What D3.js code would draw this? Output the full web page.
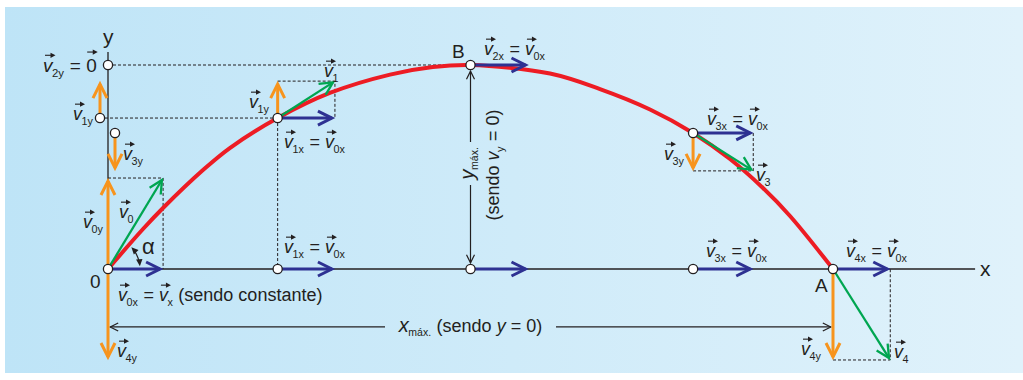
<!DOCTYPE html>
<html><head><meta charset="utf-8">
<script src="https://cdn.jsdelivr.net/npm/d3@7"></script>
<style>body{margin:0;background:#fff}svg{display:block}text{font-family:"Liberation Sans",Arial,Helvetica,sans-serif;fill:#231f20;white-space:pre}</style>
</head><body>
<svg id="c" width="1023" height="380"></svg>
<script>
// ---------- data (x: % of range, y: % of max height) ----------
const curveX = [0, 4.83, 7.59, 13.1, 16.8, 23.4, 30.6, 38.9, 44.8, 50, 60.97, 67.86, 74.76, 80.69, 85.79, 90.34, 94.07, 100];
const curveY = [0, 19.6, 29.9, 48.5, 59.3, 74.0, 86.3, 95.3, 99.0, 100, 95.8, 88.2, 78.2, 66.7, 53.9, 39.7, 26.0, 0];
const stationNames = ['0', '1', '2', '3', '4'];
const stationX = [0, 23.4, 50, 80.7, 100];
const stationY = [0, 74.0, 100, 66.7, 0];
const velX = [7.6, 7.9, 8.0, 8.3, 7.9];
const velY = [44.6, 18.1, 0, -18.6, -44.6];
const xAxisEnd = 119.6, yAxisEnd = 106.4;

// ---------- setup ----------
const svg = d3.select('#c');
const W = 1023, H = 380;
const x = d3.scaleLinear().domain([0, 100]).range([108, 833]);
const y = d3.scaleLinear().domain([0, 100]).range([269, 65]);
const INK = '#231f20', BLUE = '#2e3192', ORANGE = '#f7941d', GREEN = '#00a651', RED = '#ed1c24';

const defs = svg.append('defs');
const gr = defs.append('linearGradient').attr('id', 'bg').attr('x1', 0).attr('x2', 1).attr('y1', 0).attr('y2', 0);
gr.append('stop').attr('offset', 0).attr('stop-color', '#bee4f7');
gr.append('stop').attr('offset', 1).attr('stop-color', '#e0f2fb');
svg.append('rect').attr('x', 5).attr('y', 7).attr('width', W - 5).attr('height', 366).attr('fill', 'url(#bg)');

const gDash = svg.append('g').attr('stroke', INK).attr('stroke-width', 1).attr('stroke-dasharray', '3,2').attr('fill', 'none');
const gAxis = svg.append('g');
const gCurve = svg.append('g');
const gArr = svg.append('g');
const gPts = svg.append('g');
const gTxt = svg.append('g');

function arrow(g, x1, y1, x2, y2, color, w, hl, hw) {
  const dx = x2 - x1, dy = y2 - y1, L = Math.hypot(dx, dy), ux = dx / L, uy = dy / L;
  const tx = x2 - ux * w * 1.0, ty = y2 - uy * w * 1.0;
  const bx = tx - ux * hl, by = ty - uy * hl;
  g.append('line').attr('x1', x1).attr('y1', y1).attr('x2', tx).attr('y2', ty)
    .attr('stroke', color).attr('stroke-width', w);
  g.append('path').attr('d', `M${bx - uy * hw},${by + ux * hw}L${tx},${ty}L${bx + uy * hw},${by - ux * hw}`)
    .attr('fill', 'none').attr('stroke', color).attr('stroke-width', w).attr('stroke-linejoin', 'miter');
}
function vArrow(g, c, px, py, vx, vy, w, hl, hw) { arrow(g, px, py, px + vx, py + vy, c, w, hl, hw); }

// ---------- dashed construction lines ----------
gDash.append('line').attr('x1', x(0)).attr('x2', x(stationX[2])).attr('y1', y(stationY[2])).attr('y2', y(stationY[2]));
gDash.append('line').attr('x1', x(0) - 8).attr('x2', x(stationX[1])).attr('y1', y(stationY[1])).attr('y2', y(stationY[1]));
gDash.append('line').attr('x1', x(stationX[1])).attr('x2', x(stationX[1])).attr('y1', y(stationY[1])).attr('y2', y(0));
stationNames.forEach((n, i) => {
  if (velY[i] === 0) return;
  const px = x(stationX[i]), py = y(stationY[i]);
  const ex = x(stationX[i] + velX[i]), ey = y(stationY[i] + velY[i]);
  gDash.append('path').attr('d', `M${px},${ey}H${ex}V${py}`);
});

// ---------- axes ----------
gAxis.append('line').attr('x1', x(0)).attr('x2', x(xAxisEnd)).attr('y1', y(0)).attr('y2', y(0)).attr('stroke', INK).attr('stroke-width', 1.3);
gAxis.append('line').attr('x1', x(0)).attr('x2', x(0)).attr('y1', y(0)).attr('y2', y(yAxisEnd)).attr('stroke', INK).attr('stroke-width', 1.3);

// ---------- trajectory ----------
const line = d3.line().x((d, i) => x(curveX[i])).y((d, i) => y(curveY[i])).curve(d3.curveCatmullRom.alpha(0.5));
gCurve.append('path').attr('d', line(curveX)).attr('fill', 'none').attr('stroke', RED).attr('stroke-width', 4);

// ---------- y_max and x_max measure arrows ----------
const ym = gAxis.append('g');
arrow(ym, x(50), 142, x(50), y(100) + 5, INK, 1.2, 8, 4);
arrow(ym, x(50), 185, x(50), y(0) - 5, INK, 1.2, 8, 4);
const xmY = y(-28.4);
arrow(ym, 385, xmY, x(0) + 1, xmY, INK, 1.2, 8, 4);
arrow(ym, 556, xmY, x(100) - 1, xmY, INK, 1.2, 8, 4);

// alpha arc
(function () {
  const ox = x(0), oy = y(0), r = 32, a1 = -43 * Math.PI / 180, a2 = -5 * Math.PI / 180;
  const p = d3.path(); p.arc(ox, oy, r, a1 + 0.12, a2 - 0.12);
  ym.append('path').attr('d', p.toString()).attr('fill', 'none').attr('stroke', INK).attr('stroke-width', 1.2);
  [[a2, 1], [a1, -1]].forEach(([a, s]) => {
    const px = ox + r * Math.cos(a), py = oy + r * Math.sin(a);
    const tx = -Math.sin(a) * s, ty = Math.cos(a) * s;
    const bx = px - tx * 7, by = py - ty * 7;
    ym.append('path').attr('d', `M${px},${py}L${bx - ty * 3.2},${by + tx * 3.2}L${bx + ty * 3.2},${by - tx * 3.2}Z`).attr('fill', INK);
  });
})();

// ---------- velocity arrows ----------
const BW = 3, BH = 14, BHW = 7;
stationNames.forEach((n, i) => {
  const px = x(stationX[i]), py = y(stationY[i]);
  const dx = x(velX[i]) - x(0), dy = y(velY[i]) - y(0);
  vArrow(gArr, BLUE, px, py, dx, 0, BW, BH, BHW);
  if (velY[i] !== 0) {
    vArrow(gArr, ORANGE, px, py, 0, dy, BW, BH, BHW);
    vArrow(gArr, GREEN, px, py, dx, dy, 2.3, 13, 6.5);
  }
  if (i > 0 && i < 4) {
    vArrow(gArr, BLUE, px, y(0), dx, 0, BW, BH, BHW);
    gPts.append('circle').attr('cx', px).attr('cy', y(0));
  }
});
vArrow(gArr, ORANGE, x(0), y(0), 0, y(velY[4]) - y(0), BW, BH, BHW);
const yProj = [{ i: 1, off: -8 }, { i: 3, off: 7 }];
yProj.forEach(({ i, off }) => {
  const py = y(stationY[i]);
  vArrow(gArr, ORANGE, x(0) + off, py, 0, y(velY[i]) - y(0), BW, BH, BHW);
  gPts.append('circle').attr('cx', x(0) + off).attr('cy', py);
});
gPts.append('circle').attr('cx', x(0)).attr('cy', y(stationY[2]));
stationNames.forEach((n, i) => gPts.append('circle').attr('cx', x(stationX[i])).attr('cy', y(stationY[i])));
gPts.selectAll('circle').attr('r', 4.6).attr('fill', '#fff').attr('stroke', INK).attr('stroke-width', 1.3);

// ---------- labels ----------
function vecMark(g, x1, x2, yy) {
  g.append('line').attr('x1', x1).attr('x2', x2 - 3).attr('y1', yy).attr('y2', yy).attr('stroke', INK).attr('stroke-width', 1.1);
  g.append('path').attr('d', `M${x2},${yy}L${x2 - 5},${yy - 2.6}L${x2 - 5},${yy + 2.6}Z`).attr('fill', INK);
}
function label(g, items, size) {
  size = size || 18;
  const grp = g.append('g');
  let cx = 0;
  items.forEach(it => {
    const isVec = it.v !== undefined;
    const t = grp.append('text').attr('x', cx).attr('y', 0).attr('font-size', it.size || size)
      .attr('font-style', (isVec && !it.up) || it.i ? 'italic' : 'normal')
      .attr('font-family', it.serif ? '"Liberation Serif","DejaVu Serif",serif' : null)
      .text(isVec ? it.v : it.t);
    const w = t.node().getComputedTextLength();
    if (isVec) {
      if (it.up) vecMark(grp, cx + 1, cx + w + 1, -size * 1.05);
      else vecMark(grp, cx + 2, cx + w + 3, -size * 0.88);
    }
    cx += w;
    if (it.s) {
      const s = grp.append('text').attr('x', cx - 0.5).attr('y', (it.sy || size * 0.27)).attr('font-size', it.ss || size * 0.6).text(it.s);
      cx += s.node().getComputedTextLength();
    }
  });
  return { grp, w: cx };
}
function place(items, x0, yb, size) {
  const l = label(gTxt, items, size);
  l.grp.attr('transform', `translate(${x0},${yb})`);
  return l;
}
const EQ = { t: ' = ' };
const v = (s) => ({ v: 'v', s });

place([v('2y'), EQ, { v: '0', up: true }], 43, 72, 19);
place([v('1y')], 73, 120);
place([v('3y')], 123, 160);
place([v('0y')], 83, 228);
place([v('0')], 119, 218);
place([v('0x'), EQ, v('x'), { t: ' (sendo constante)' }], 118, 301);
place([v('4y')], 117, 357);
place([{ t: '0' }], 90, 288, 19);
place([{ t: 'α', serif: true, size: 22 }], 142, 254);
place([{ t: 'y' }], 103, 44, 21);
place([v('1y')], 249, 108);
place([v('1')], 324, 77);
place([v('1x'), EQ, v('0x')], 284, 148);
place([v('1x'), EQ, v('0x')], 284, 253);
place([{ t: 'B' }], 452, 58, 19);
place([v('2x'), EQ, v('0x')], 484, 55);
place([v('3x'), EQ, v('0x')], 707, 125);
place([v('3y')], 664, 160);
place([v('3')], 756, 181);
place([v('3x'), EQ, v('0x')], 706, 257);
place([v('4x'), EQ, v('0x')], 846, 257);
place([{ t: 'A' }], 815, 292, 19);
place([{ t: 'x' }], 980, 276, 21);
place([v('4y')], 801, 355);
place([v('4')], 894, 358);

(function () {
  const l = label(gTxt, [{ t: 'x', i: true, s: 'máx.', ss: 10.5, sy: 4, size: 20 }, { t: ' (sendo ' }, { t: 'y', i: true }, { t: ' = 0)' }], 18);
  l.grp.attr('transform', `translate(${470.5 - l.w / 2},${xmY + 5})`);
})();
(function () {
  const l1 = label(gTxt, [{ t: 'y', i: true, s: 'máx.', ss: 10.5, sy: 4, size: 20 }], 18);
  l1.grp.attr('transform', `translate(${474},${163}) rotate(-90) translate(${-l1.w / 2},0)`);
  const l2 = label(gTxt, [{ t: '(sendo ' }, { t: 'v', i: true, s: 'y', ss: 11, sy: 5 }, { t: ' = 0)' }], 18);
  l2.grp.attr('transform', `translate(${499},${165}) rotate(-90) translate(${-l2.w / 2},0)`);
})();
</script>
</body></html>
